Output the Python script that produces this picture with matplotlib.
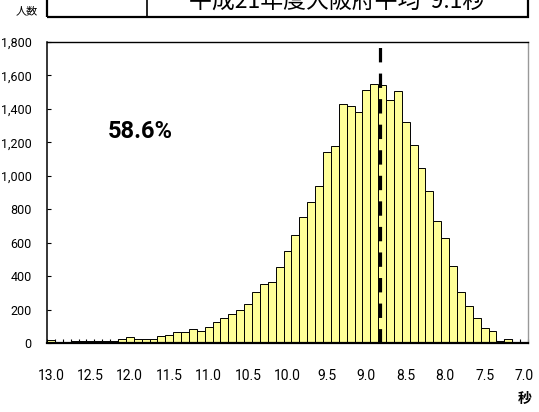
import numpy as np
import matplotlib
matplotlib.use("Agg")
import matplotlib.pyplot as plt
from matplotlib.patches import Rectangle
from matplotlib.lines import Line2D

# 50m走 タイム分布 (13.0秒 -> 7.0秒, 0.1秒刻み)
seconds = [round(13.0 - 0.1 * i, 1) for i in range(61)]
counts = [15, 2, 6, 12, 12, 12, 12, 12, 12, 25,
          35, 22, 22, 22, 42, 50, 66, 66, 86, 73,
          98, 123, 147, 172, 196, 236, 304, 352, 362, 454,
          552, 644, 752, 844, 940, 1140, 1176, 1430, 1420, 1380,
          1514, 1546, 1544, 1456, 1504, 1322, 1182, 1046, 908, 728,
          626, 460, 304, 222, 148, 88, 72, 14, 22, 5,
          5]
xtick_vals = [13.0, 12.5, 12.0, 11.5, 11.0, 10.5, 10.0, 9.5, 9.0, 8.5, 8.0, 7.5, 7.0]
ytick_vals = [0, 200, 400, 600, 800, 1000, 1200, 1400, 1600, 1800]
mean_line = 8.83
title_text = "平成21年度大阪府平均  9.1秒"
pct_text = "58.6%"

num_font = ["Roboto", "DejaVu Sans"]
jp = ["Noto Sans CJK JP", "DejaVu Sans"]

W, H = 539, 412
fig = plt.figure(figsize=(W / 100, H / 100), dpi=100)
ax = fig.add_axes([47 / W, 1 - 343 / H, (528 - 47) / W, (343 - 42) / H])

ax.bar(seconds, counts, width=0.1, color="#FFFF99", edgecolor="black", linewidth=0.7, zorder=2)
ax.axvline(mean_line, color="black", linewidth=2.3, linestyle=(0, (4.5, 3.5)), zorder=3)

ax.set_xlim(13.05, 6.95)
ax.set_ylim(0, 1800)

# y axis
ax.set_yticks(ytick_vals)
ax.set_yticklabels([f"{v:,}" for v in ytick_vals], fontfamily=num_font, fontsize=9)
ax.tick_params(axis="y", direction="in", length=3, width=0.8, pad=11)

# x axis: labels every 0.5s, small ticks at each bin boundary
ax.set_xticks(xtick_vals)
ax.set_xticklabels([f"{v:.1f}" for v in xtick_vals], fontfamily=num_font, fontsize=10)
ax.tick_params(axis="x", which="major", length=0, pad=19)
edges = [13.05 - 0.1 * i for i in range(62)]
ax.set_xticks(edges, minor=True)
ax.tick_params(axis="x", which="minor", direction="in", length=3, width=0.8)

ax.spines["bottom"].set_linewidth(1.6)
ax.spines["left"].set_linewidth(1.1)
ax.spines["top"].set_linewidth(1.0)
ax.spines["right"].set_color("#999999")
ax.spines["right"].set_linewidth(1.0)

fig.text(140 / W, 1 - 131 / H, pct_text, fontfamily=num_font, fontsize=17,
         fontweight="bold", ha="center", va="center")

# header box (top edge is outside the picture)
lw = 1.6
fig.add_artist(Rectangle((47 / W, 1 - 17 / H), (528 - 47) / W, 40 / H,
                         transform=fig.transFigure, fill=False, edgecolor="black", linewidth=lw))
fig.add_artist(Line2D([147 / W, 147 / W], [1 - 17 / H, 1.05], transform=fig.transFigure,
                      color="black", linewidth=1.2))
fig.text(337 / W, 1 - 2 / H, title_text, fontfamily=jp, fontsize=16.5, ha="center", va="center")

fig.text(27 / W, 1 - 11 / H, "人数", fontfamily=jp, fontsize=8, ha="center", va="center")
fig.text(525 / W, 1 - 399 / H, "秒", fontfamily=jp, fontsize=10, fontweight="bold",
         ha="center", va="center")

fig.savefig("out.png", dpi=100)
